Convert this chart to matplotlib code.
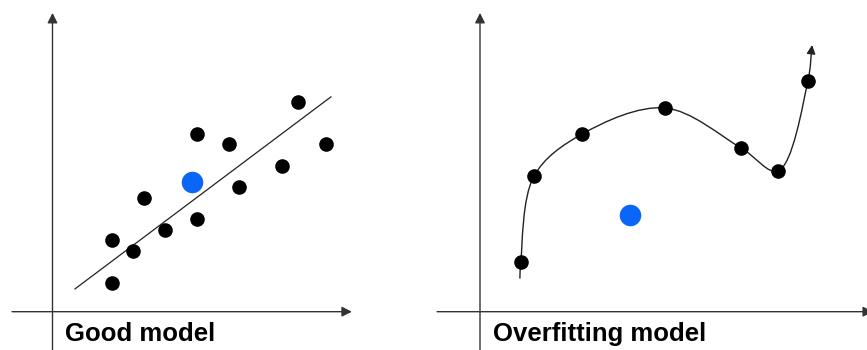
import numpy as np
import matplotlib
matplotlib.use("Agg")
import matplotlib.pyplot as plt
from matplotlib.patches import FancyArrowPatch
from matplotlib.path import Path

# left panel: "good model" scatter + straight fit
good_x = [8.18, 9.12, 4.82, 5.88, 7.65, 6.22, 3.05, 4.82, 3.75, 1.98, 2.68, 1.98]
good_y = [6.99, 5.59, 5.92, 5.59, 4.86, 4.16, 3.79, 3.09, 2.72, 2.39, 2.02, 0.96]
good_new = (4.65, 4.32)
fit_x = [0.75, 9.28]
fit_y = [0.76, 7.16]

# right panel: "overfitting model" points + wiggly curve through them
over_x = [1.36, 1.80, 3.40, 6.17, 8.70, 9.93, 10.93]
over_y = [1.66, 4.52, 5.92, 6.79, 5.46, 4.69, 7.69]
over_new = (5.0, 3.22)
curve_x = [1.33] + over_x + [11.07]
curve_y = [1.12] + over_y + [8.89]

titles = ["Good model", "Overfitting model"]

AX_COLOR = "#333333"
BLUE = "#0a66f7"


def catmull_path(xs, ys, alpha=0.5):
    # centripetal catmull-rom, converted to cubic bezier segments
    pts = np.column_stack([xs, ys]).astype(float)
    pad = np.vstack([2 * pts[0] - pts[1], pts, 2 * pts[-1] - pts[-2]])
    d = np.linalg.norm(np.diff(pad, axis=0), axis=1) ** alpha
    t = np.concatenate([[0], np.cumsum(d)])

    def tangent(i):
        p0, p1, p2 = pad[i - 1], pad[i], pad[i + 1]
        t0, t1, t2 = t[i - 1], t[i], t[i + 1]
        return (p1 - p0) / (t1 - t0) - (p2 - p0) / (t2 - t0) + (p2 - p1) / (t2 - t1)

    verts = [pts[0]]
    codes = [Path.MOVETO]
    for i in range(1, len(pad) - 2):
        dt = t[i + 1] - t[i]
        verts += [pad[i] + tangent(i) * dt / 3,
                  pad[i + 1] - tangent(i + 1) * dt / 3,
                  pad[i + 1]]
        codes += [Path.CURVE4] * 3
    return Path(verts, codes)


def draw_axes(ax, xleft, xright):
    kw = dict(arrowstyle="-|>", mutation_scale=15, lw=1.0, color=AX_COLOR,
              shrinkA=0, shrinkB=0)
    ax.add_patch(FancyArrowPatch((xleft, 0), (xright, 0), **kw))
    ax.add_patch(FancyArrowPatch((0, -1.4), (0, 9.96), **kw))


fig = plt.figure(figsize=(8.67, 3.5), dpi=100)
ax1 = fig.add_axes([0, 0, 0.5, 1])
ax2 = fig.add_axes([0.5, 0, 0.5, 1])

ax1.set_xlim(-1.75, 12.7)
ax2.set_xlim(-1.55, 12.9)
for ax in (ax1, ax2):
    ax.set_ylim(-1.277, 10.39)
    ax.axis("off")

# good model
draw_axes(ax1, -1.35, 9.98)
ax1.plot(fit_x, fit_y, color="#222222", lw=0.9, zorder=2)
ax1.plot(good_x, good_y, "o", color="black", ms=10.5, mec="none", zorder=3)
ax1.plot(*good_new, "o", color=BLUE, ms=15.5, mec="none", zorder=3)
ax1.text(0.42, -0.98, titles[0], fontsize=18.5, fontweight="bold",
         family="Liberation Sans", va="baseline")

# overfitting model
draw_axes(ax2, -1.43, 13.1)
curve = FancyArrowPatch(path=catmull_path(curve_x, curve_y), arrowstyle="-|>",
                        mutation_scale=13, lw=1.0, color="#222222", zorder=2)
ax2.add_patch(curve)
ax2.plot(over_x, over_y, "o", color="black", ms=10.5, mec="none", zorder=3)
ax2.plot(*over_new, "o", color=BLUE, ms=15.5, mec="none", zorder=3)
ax2.text(0.43, -0.98, titles[1], fontsize=18.5, fontweight="bold",
         family="Liberation Sans", va="baseline")

fig.savefig("out.png", dpi=100)
